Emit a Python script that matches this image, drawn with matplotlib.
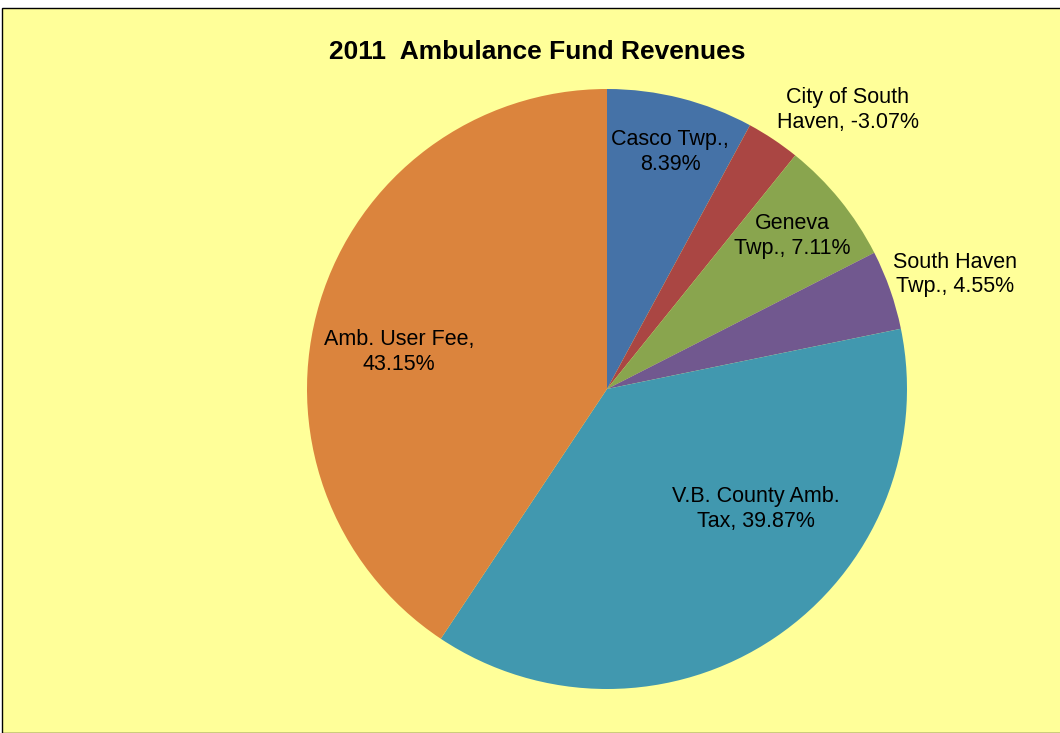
import matplotlib
matplotlib.use("Agg")
import matplotlib.pyplot as plt
from matplotlib.patches import Rectangle

categories = ["Casco Twp.", "City of South\nHaven", "Geneva\nTwp.", "South Haven\nTwp.",
              "V.B. County Amb.\nTax", "Amb. User Fee"]
percents = [8.39, -3.07, 7.11, 4.55, 39.87, 43.15]
colors = ["#4572A7", "#AA4643", "#89A54E", "#71588F", "#4198AF", "#DB843D"]
# label centres in pie-radius units (layout only)
label_pos = [(0.21, 0.79), (0.803, 0.93), (0.617, 0.51), (1.16, 0.383),
             (0.497, -0.40), (-0.693, 0.123)]

plt.rcParams['font.family'] = ['Liberation Sans', 'DejaVu Sans']

W, H = 1060, 733
fig = plt.figure(figsize=(W / 100, H / 100), dpi=100)
fig.patch.set_facecolor("white")

bg = Rectangle((2 / W, 0), 1.2, 1 - 8 / H, transform=fig.transFigure,
               facecolor="#FFFF99", edgecolor="black", linewidth=1.0, zorder=-5)
fig.patches.append(bg)

cx, cy, R = 607, 389, 300
ax = fig.add_axes([(cx - R) / W, (H - cy - R) / H, 2 * R / W, 2 * R / H])
ax.set_zorder(2)
ax.patch.set_visible(False)

sizes = [abs(p) for p in percents]
ax.pie(sizes, colors=colors, startangle=90, counterclock=False, radius=1,
       wedgeprops=dict(edgecolor="none"), center=(0, 0), frame=False)
ax.set_xlim(-1, 1)
ax.set_ylim(-1, 1)
ax.set_aspect("equal")
ax.axis("off")

for cat, p, (lx, ly) in zip(categories, percents, label_pos):
    if "\n" in cat:
        txt = f"{cat}, {p:.2f}%"
    else:
        txt = f"{cat},\n{p:.2f}%"
    ax.text(lx, ly, txt, ha="center", va="center", fontsize=15.5,
            linespacing=1.2, color="black", clip_on=False)

fig.text(537 / W, 1 - 52 / H, "2011  Ambulance Fund Revenues", ha="center", va="center",
         fontsize=19, fontweight="bold")

fig.savefig("out.png", dpi=100, facecolor=fig.get_facecolor())
